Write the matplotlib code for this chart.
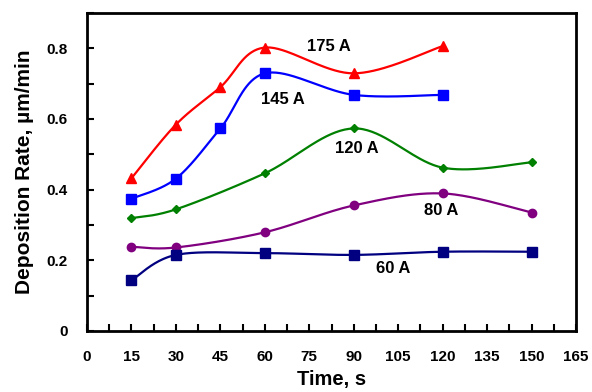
import numpy as np
import matplotlib
matplotlib.use("Agg")
import matplotlib.pyplot as plt
from matplotlib.ticker import MultipleLocator, FuncFormatter

plt.rcParams['font.family'] = ['Liberation Sans', 'DejaVu Sans']
plt.rcParams['font.weight'] = 'bold'

# Deposition rate (µm/min) vs. time (s) for each arc current
t_175 = [15, 30, 45, 60, 90, 120]
r_175 = [0.432, 0.584, 0.690, 0.802, 0.729, 0.806]

t_145 = [15, 30, 45, 60, 90, 120]
r_145 = [0.374, 0.431, 0.573, 0.729, 0.668, 0.668]

t_120 = [15, 30, 60, 90, 120, 150]
r_120 = [0.319, 0.344, 0.446, 0.573, 0.462, 0.477]

t_80 = [15, 30, 60, 90, 120, 150]
r_80 = [0.238, 0.236, 0.279, 0.355, 0.389, 0.335]

t_60 = [15, 30, 60, 90, 120, 150]
r_60 = [0.143, 0.215, 0.220, 0.215, 0.224, 0.224]

series_labels = ["175 A", "145 A", "120 A", "80 A", "60 A"]
label_pos = [(81.5, 0.806), (66, 0.656), (91, 0.517), (119.6, 0.34), (103.4, 0.176)]


def smooth(x, y, n=40):
    """Bezier smoothing through every point (control points from neighbour slopes)."""
    x = np.asarray(x, float)
    y = np.asarray(y, float)
    px, py = [x[0]], [y[0]]
    m = len(x)
    for i in range(m - 1):
        x0, y0 = (x[i - 1], y[i - 1]) if i > 0 else (x[i], y[i])
        x3, y3 = (x[i + 2], y[i + 2]) if i + 2 < m else (x[i + 1], y[i + 1])
        c1x = x[i] + (x[i + 1] - x0) / 6
        c1y = y[i] + (y[i + 1] - y0) / 6
        c2x = x[i + 1] - (x3 - x[i]) / 6
        c2y = y[i + 1] - (y3 - y[i]) / 6
        s = np.linspace(0, 1, n)[1:]
        bx = ((1 - s) ** 3 * x[i] + 3 * (1 - s) ** 2 * s * c1x
              + 3 * (1 - s) * s ** 2 * c2x + s ** 3 * x[i + 1])
        by = ((1 - s) ** 3 * y[i] + 3 * (1 - s) ** 2 * s * c1y
              + 3 * (1 - s) * s ** 2 * c2y + s ** 3 * y[i + 1])
        px.extend(bx)
        py.extend(by)
    return np.array(px), np.array(py)


fig = plt.figure(figsize=(5.92, 3.92), dpi=100)
ax = fig.add_axes([0.147, 0.156, 0.826, 0.811])

styles = [
    (t_175, r_175, "#FF0000", "^", 7),
    (t_145, r_145, "#0000FF", "s", 6.5),
    (t_120, r_120, "#008000", "D", 4.5),
    (t_80, r_80, "#800080", "o", 6),
    (t_60, r_60, "#000080", "s", 6.5),
]
for (tx, ry, c, mk, ms) in styles:
    sx, sy = smooth(tx, ry)
    ax.plot(sx, sy, color=c, lw=1.6, zorder=2)
    ax.plot(tx, ry, ls="none", marker=mk, ms=ms, color=c, zorder=3)

for lab, (lx, ly) in zip(series_labels, label_pos):
    ax.text(lx, ly, lab, ha="center", va="center", fontsize=12,
            fontweight="bold", color="black")

ax.set_xlim(0, 165)
ax.set_ylim(0, 0.9)
ax.xaxis.set_major_locator(MultipleLocator(15))
ax.xaxis.set_minor_locator(MultipleLocator(7.5))
ax.yaxis.set_major_locator(MultipleLocator(0.2))
ax.yaxis.set_minor_locator(MultipleLocator(0.1))
ax.yaxis.set_major_formatter(FuncFormatter(lambda v, p: "0" if abs(v) < 1e-9 else f"{v:.1f}"))
ax.xaxis.set_major_formatter(FuncFormatter(lambda v, p: f"{v:.0f}"))

ax.tick_params(which="both", direction="in", width=1.5, labelsize=11)
ax.tick_params(which="major", length=5)
ax.tick_params(which="minor", length=5)
ax.tick_params(axis="x", which="major", pad=14)
ax.tick_params(axis="y", which="major", pad=14)
for sp in ax.spines.values():
    sp.set_linewidth(2)

ax.set_xlabel("Time, s", fontsize=14.5, fontweight="bold", labelpad=4)
ax.set_ylabel("Deposition Rate, µm/min", fontsize=15, fontweight="bold", labelpad=9)

fig.savefig("out.png", dpi=100)
